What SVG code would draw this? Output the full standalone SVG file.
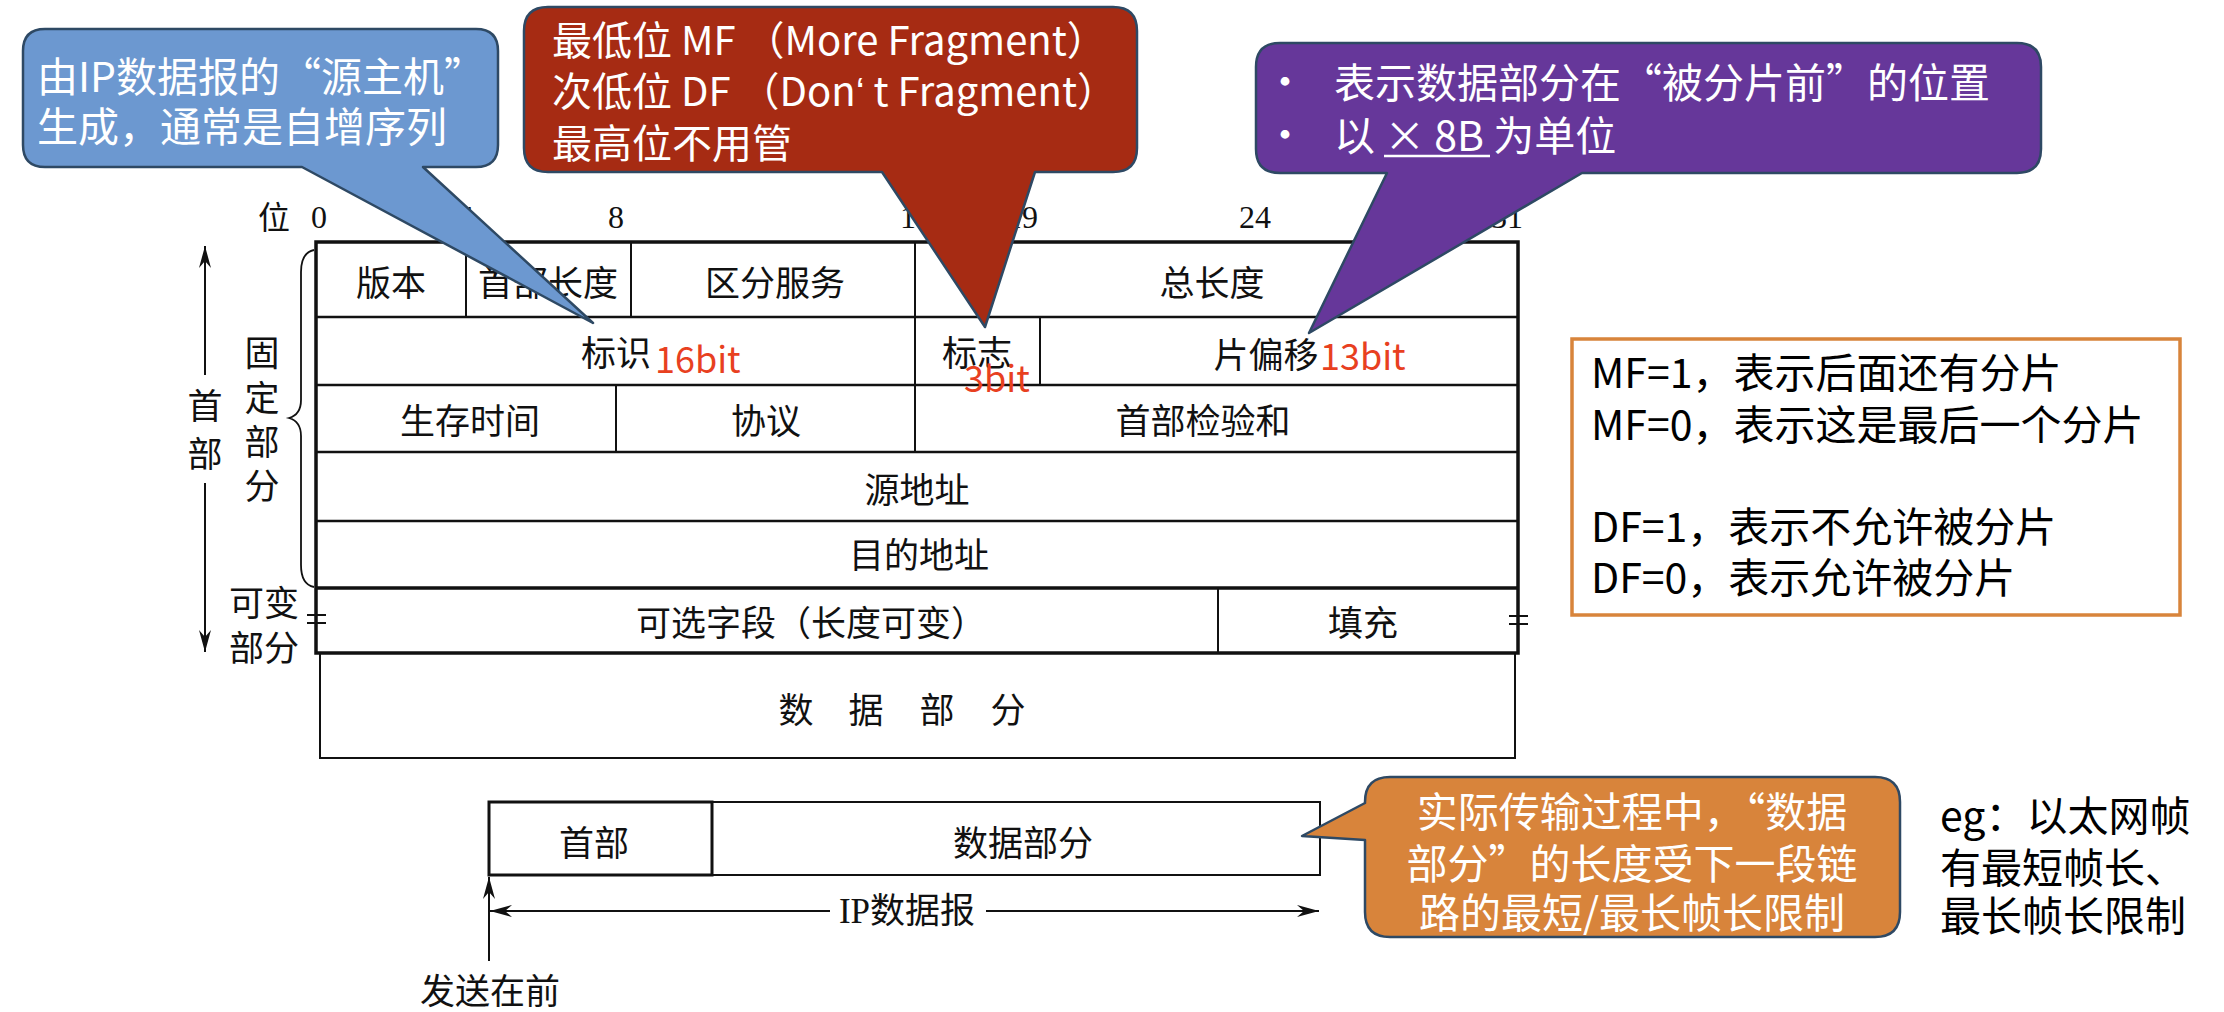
<svg xmlns="http://www.w3.org/2000/svg" width="2224" height="1012" viewBox="0 0 2224 1012">
<style>
.t { font-family: "Noto Sans CJK SC", sans-serif; font-size: 35px; fill: #111; text-anchor: middle; dominant-baseline: central; }
.num { font-family: "Liberation Serif", "Noto Sans CJK SC", serif; font-size: 32px; fill: #111; text-anchor: middle; }
.cw { font-family: "Noto Sans CJK SC", sans-serif; font-size: 41px; fill: #fff; }
.cb { font-family: "Noto Sans CJK SC", sans-serif; font-size: 41px; fill: #000; }
.bit { font-family: "Noto Sans CJK SC", sans-serif; font-size: 36px; fill: #E8401F; }
.thick { stroke: #111; stroke-width: 3.5; fill: none; }
.mid { stroke: #111; stroke-width: 2.5; fill: none; }
.thin { stroke: #111; stroke-width: 2; fill: none; }
.callout { stroke: #2E4964; stroke-width: 2.5; stroke-linejoin: round; }
</style>
<defs>
<marker id="ah" markerUnits="userSpaceOnUse" markerWidth="26" markerHeight="14" viewBox="-24 -7 26 14" refX="0" refY="0" orient="auto">
<path d="M0,0 L-22,-6 L-15,0 L-22,6 Z" fill="#111"/>
</marker>
</defs>

<g id="bit-labels">
<text class="num" x="274" y="229" style="font-family:'Noto Sans CJK SC',sans-serif">位</text>
<text class="num" x="319" y="228">0</text>
<text class="num" x="466" y="228">4</text>
<text class="num" x="616" y="228">8</text>
<text class="num" x="916" y="228">16</text>
<text class="num" x="1022" y="228">19</text>
<text class="num" x="1255" y="228">24</text>
<text class="num" x="1507" y="228">31</text>
</g>

<g id="header-table">
<rect class="thick" x="316" y="242" width="1202" height="411"/>
<line class="mid" x1="316" y1="317" x2="1518" y2="317"/>
<line class="mid" x1="316" y1="385" x2="1518" y2="385"/>
<line class="mid" x1="316" y1="452" x2="1518" y2="452"/>
<line class="mid" x1="316" y1="521" x2="1518" y2="521"/>
<line class="thick" x1="316" y1="588" x2="1518" y2="588"/>
<line class="thin" x1="466" y1="242" x2="466" y2="317"/>
<line class="thin" x1="631" y1="242" x2="631" y2="317"/>
<line class="thin" x1="915" y1="242" x2="915" y2="452"/>
<line class="thin" x1="1040" y1="317" x2="1040" y2="385"/>
<line class="thin" x1="616" y1="385" x2="616" y2="452"/>
<line class="thin" x1="1218" y1="588" x2="1218" y2="653"/>
<line class="thin" x1="307" y1="615" x2="326" y2="615"/>
<line class="thin" x1="307" y1="623" x2="326" y2="623"/>
<line class="thin" x1="1509" y1="616" x2="1528" y2="616"/>
<line class="thin" x1="1509" y1="624" x2="1528" y2="624"/>
<text class="t" x="391" y="280">版本</text>
<text class="t" x="548" y="280">首部长度</text>
<text class="t" x="775" y="280">区分服务</text>
<text class="t" x="1212" y="280">总长度</text>
<text class="t" x="616" y="350">标识</text>
<text class="t" x="977" y="350">标志</text>
<text class="t" x="1266" y="352">片偏移</text>
<text class="t" x="470" y="418">生存时间</text>
<text class="t" x="766" y="418">协议</text>
<text class="t" x="1203" y="418">首部检验和</text>
<text class="t" x="917" y="487">源地址</text>
<text class="t" x="919" y="552">目的地址</text>
<text class="t" x="811" y="620">可选字段（长度可变）</text>
<text class="t" x="1363" y="620">填充</text>
<text class="bit" x="655" y="373">16bit</text>
<text class="bit" x="964" y="392">3bit</text>
<text class="bit" x="1320" y="370">13bit</text>
</g>

<g id="data-part">
<polyline class="thin" points="320,653 320,758 1515,758 1515,653"/>
<text class="t" x="796" y="707">数</text>
<text class="t" x="866" y="707">据</text>
<text class="t" x="937" y="707">部</text>
<text class="t" x="1008" y="707">分</text>
</g>

<g id="side-labels">
<path class="thin" style="stroke-width:1.8" d="M314,250 C304,252 301,260 301,272 L301,400 C301,410 296,416 289,418 C296,420 301,426 301,436 L301,565 C301,577 304,585 314,587"/>
<text class="t" x="205" y="403">首</text>
<text class="t" x="205" y="451">部</text>
<text class="t" x="262" y="350">固</text>
<text class="t" x="262" y="395">定</text>
<text class="t" x="262" y="439">部</text>
<text class="t" x="262" y="483">分</text>
<text class="t" x="264" y="600">可变</text>
<text class="t" x="264" y="645">部分</text>
</g>

<g id="datagram">
<rect class="thin" x="712" y="802" width="608" height="73"/>
<rect class="thick" style="stroke-width:3" x="489" y="802" width="223" height="73"/>
<text class="t" x="594" y="840">首部</text>
<text class="t" x="1023" y="840">数据部分</text>
<text class="t" x="907" y="911" style="font-family:'Liberation Serif','Noto Sans CJK SC',serif">IP数据报</text>
<text class="t" x="490" y="988">发送在前</text>
</g>

<g id="mf-df-note">
<rect x="1572" y="339" width="608" height="276" fill="#fff" stroke="#D8843B" stroke-width="3.5"/>
<text class="cb" x="1591" y="388">MF=1，表示后面还有分片</text>
<text class="cb" x="1591" y="440">MF=0，表示这是最后一个分片</text>
<text class="cb" x="1591" y="542">DF=1，表示不允许被分片</text>
<text class="cb" x="1591" y="593">DF=0，表示允许被分片</text>
</g>

<g id="eg-note">
<text class="cb" x="1940" y="831">eg：以太网帧</text>
<text class="cb" x="1940" y="883">有最短帧长、</text>
<text class="cb" x="1940" y="931">最长帧长限制</text>
</g>

<g id="connectors">
<line class="thin" x1="205" y1="375" x2="205" y2="246" marker-end="url(#ah)"/>
<line class="thin" x1="205" y1="483" x2="205" y2="652" marker-end="url(#ah)"/>
<line class="thin" x1="830" y1="911" x2="490" y2="911" marker-end="url(#ah)"/>
<line class="thin" x1="986" y1="911" x2="1319" y2="911" marker-end="url(#ah)"/>
<line class="thin" x1="489" y1="961" x2="489" y2="877" marker-end="url(#ah)"/>
</g>

<g id="callout-id">
<path class="callout" fill="#6C98D0" d="M45,29 H476 Q498,29 498,51 V145 Q498,167 476,167 H423 L593,323 L302,167 H45 Q23,167 23,145 V51 Q23,29 45,29 Z"/>
<text class="cw" x="37" y="92">由IP数据报的“源主机”</text>
<text class="cw" x="37" y="142">生成，通常是自增序列</text>
</g>

<g id="callout-flags">
<path class="callout" fill="#A62B13" d="M548,7 H1113 Q1137,7 1137,31 V148 Q1137,172 1113,172 H1035 L985,327 L882,172 H548 Q524,172 524,148 V31 Q524,7 548,7 Z"/>
<text class="cw" x="552" y="55" style="font-size:40px">最低位 MF （More Fragment）</text>
<text class="cw" x="552" y="106" style="font-size:40px">次低位 DF （Don<tspan style="font-family:'Liberation Sans',sans-serif">‘</tspan> t Fragment）</text>
<text class="cw" x="552" y="158" style="font-size:40px">最高位不用管</text>
</g>

<g id="callout-offset">
<path class="callout" fill="#66379A" d="M1280,43 H2017 Q2041,43 2041,67 V149 Q2041,173 2017,173 H1582 L1309,333 L1387,173 H1280 Q1256,173 1256,149 V67 Q1256,43 1280,43 Z"/>
<text class="cw" x="1285" y="97" text-anchor="middle">•</text>
<text class="cw" x="1285" y="150" text-anchor="middle">•</text>
<text class="cw" x="1334" y="98">表示数据部分在“被分片前”的位置</text>
<text class="cw" x="1334" y="151">以 × 8B 为单位</text>
<line x1="1384" y1="156" x2="1490" y2="156" stroke="#fff" stroke-width="2.5"/>
</g>

<g id="callout-length">
<path class="callout" fill="#D8843B" d="M1390,777 H1875 Q1900,777 1900,802 V912 Q1900,937 1875,937 H1390 Q1365,937 1365,912 V840 L1302,836 L1365,803 V802 Q1365,777 1390,777 Z"/>
<text class="cw" x="1632" y="827" text-anchor="middle">实际传输过程中，“数据</text>
<text class="cw" x="1632" y="879" text-anchor="middle">部分”的长度受下一段链</text>
<text class="cw" x="1632" y="928" text-anchor="middle">路的最短/最长帧长限制</text>
</g>
</svg>
